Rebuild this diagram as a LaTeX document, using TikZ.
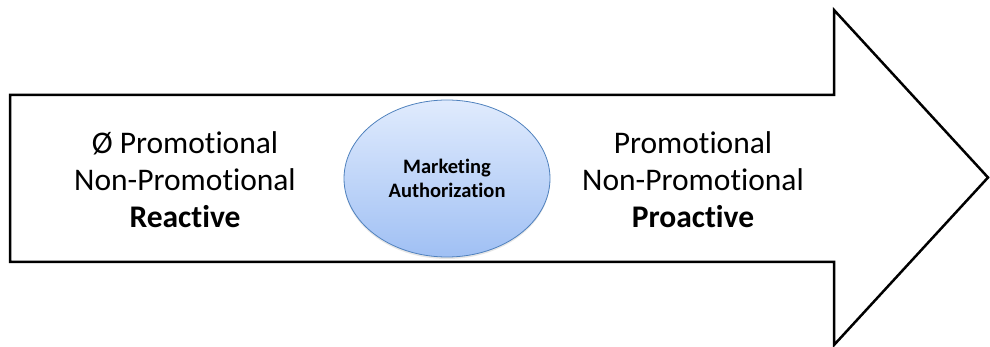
\documentclass[tikz,border=0pt]{standalone}
\usepackage{fontspec}
\setmainfont{Carlito}[Ligatures=NoCommon]
\usetikzlibrary{shapes.geometric, shadows}
\definecolor{maborder}{RGB}{79,129,189}
\definecolor{matop}{RGB}{224,235,253}
\definecolor{mabottom}{RGB}{160,192,244}
\tikzset{
  sidetext/.style={align=center, font=\fontsize{31.5}{37}\selectfont},
  mabubble/.style={ellipse, draw=maborder, top color=matop, bottom color=mabottom,
    minimum width=206pt, minimum height=157pt, inner sep=0pt, align=center,
    font=\bfseries\fontsize{20.5}{24}\selectfont,
    drop shadow={opacity=0.2, shadow xshift=0pt, shadow yshift=-2pt}},
}
\begin{document}
\begin{tikzpicture}[x=1pt, y=-1pt, thick]
  \useasboundingbox (0, 0) rectangle (990, 347);
  \draw [line width=2.5pt] (10, 95) -- (834, 95) -- (834, 10) -- (988, 177.5)
    -- (834, 345) -- (834, 262) -- (10, 262) -- cycle;
  \node [mabubble] (ma) at (447, 178.5) {Marketing\\Authorization};
  \node [sidetext] (react) at (185, 180) {Ø Promotional\\Non-Promotional\\\textbf{Reactive}};
  \node [sidetext] (proact) at (693, 180) {Promotional\\Non-Promotional\\\textbf{Proactive}};
\end{tikzpicture}
\end{document}
